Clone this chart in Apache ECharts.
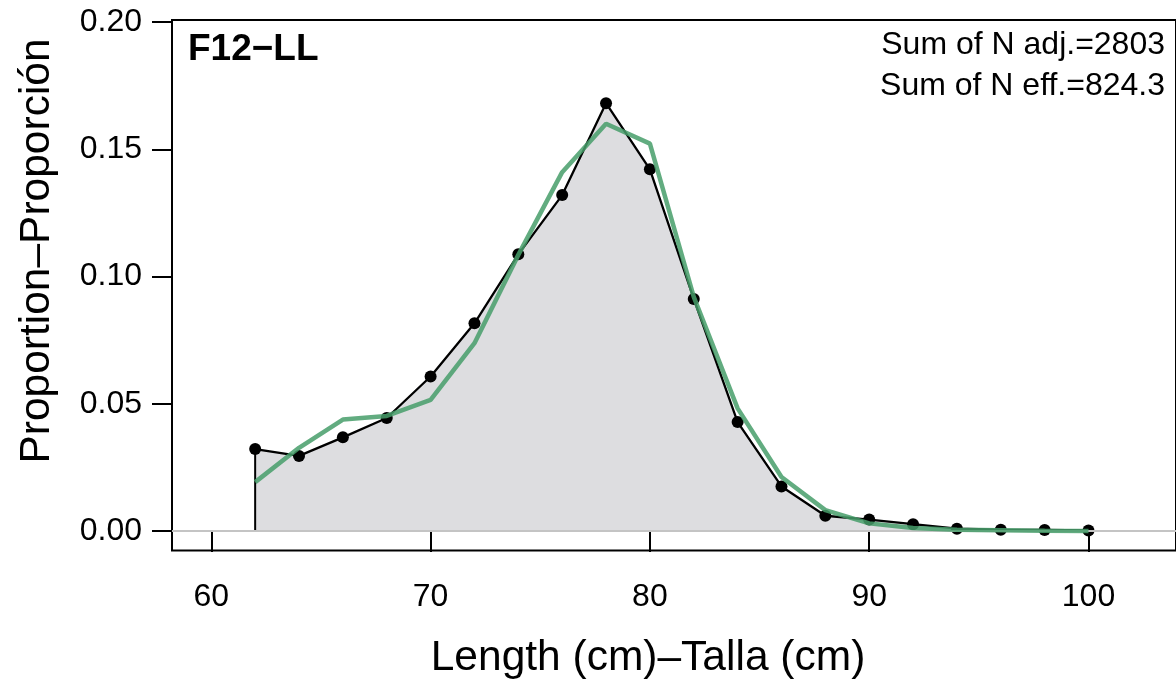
<!DOCTYPE html>
<html>
<head>
<meta charset="utf-8">
<script src="https://cdn.jsdelivr.net/npm/echarts@6/dist/echarts.min.js"></script>
<style>
html,body{margin:0;padding:0;background:#fff;}
#chart{width:1176px;height:681px;}
</style>
</head>
<body>
<div id="chart"></div>
<script>
// ---- data ----
const lengths = [62,64,66,68,70,72,74,76,78,80,82,84,86,88,90,92,94,96,98,100];
const observed = [0.0322,0.0295,0.0368,0.0444,0.0607,0.0816,0.1087,0.1320,0.1681,0.1421,0.0912,0.0428,0.0175,0.0060,0.0045,0.0027,0.0009,0.0005,0.0004,0.0002];
const expected = [0.0192,0.0327,0.0438,0.0452,0.0515,0.0738,0.1085,0.1410,0.1600,0.1522,0.0920,0.0482,0.0212,0.0082,0.0030,0.0012,0.0005,0.0003,0.0001,0.0000];
const xTicks = [60,70,80,90,100];
const yTicks = [0,0.05,0.10,0.15,0.20];
const panelLabel = 'F12\u2212LL';
const noteLines = ['Sum of N adj.=2803','Sum of N eff.=824.3'];
const xTitle = 'Length (cm)\u2013Talla (cm)';
const yTitle = 'Proportion\u2013Proporci\u00f3n';

const FONT = '"Liberation Sans", Arial, Helvetica, sans-serif';
const obsPts = lengths.map((x,i)=>[x, observed[i]]);
const expPts = lengths.map((x,i)=>[x, expected[i]]);
const edgePts = [[lengths[lengths.length-1],0],[lengths[0],0],[lengths[0],observed[0]]];

const chart = echarts.init(document.getElementById('chart'), null, {renderer:'canvas'});
chart.setOption({
  animation:false,
  backgroundColor:'#ffffff',
  grid:{left:172, top:20, width:1014, height:530.5, show:true, borderColor:'#000', borderWidth:2, backgroundColor:'transparent'},
  xAxis:{
    type:'value', min:58.208, max:103.99,
    axisLine:{show:false},
    splitLine:{show:false},
    axisTick:{show:true, inside:false, length:21, lineStyle:{color:'#000', width:2}, customValues:xTicks},
    axisLabel:{show:true, margin:31, color:'#000', fontSize:32, fontFamily:FONT, customValues:xTicks, formatter:v=>String(v)}
  },
  yAxis:{
    type:'value', min:-0.00766, max:0.20079,
    axisLine:{show:false},
    splitLine:{show:false},
    axisTick:{show:true, inside:false, length:20, lineStyle:{color:'#000', width:2}, customValues:yTicks},
    axisLabel:{show:true, margin:30, color:'#000', fontSize:32, fontFamily:FONT, customValues:yTicks, formatter:v=>v.toFixed(2)}
  },
  series:[
    {
      type:'line', data:[], z:1, silent:true,
      markLine:{silent:true, symbol:'none', label:{show:false}, lineStyle:{color:'#c4c4c4', width:2, type:'solid'}, data:[{yAxis:0}]}
    },
    {
      type:'line', data:obsPts, z:2, silent:true, symbol:'none',
      lineStyle:{width:0, opacity:0},
      areaStyle:{color:'#dddde0', opacity:1, origin:0}
    },
    {
      type:'line', data:edgePts, z:3, silent:true, symbol:'none',
      lineStyle:{color:'#000', width:2}
    },
    {
      type:'line', data:obsPts, z:4, silent:true, symbol:'circle', symbolSize:12,
      itemStyle:{color:'#000'},
      lineStyle:{color:'#000', width:2.3}
    },
    {
      type:'line', data:expPts, z:5, silent:true, symbol:'none',
      lineStyle:{color:'rgba(70,158,106,0.85)', width:4.5}
    }
  ],
  graphic:[
    {type:'text', x:188, y:50, style:{text:panelLabel, font:'bold 37px '+FONT, fill:'#000', textAlign:'left', textVerticalAlign:'middle'}},
    {type:'text', x:1165, y:45, style:{text:noteLines[0], font:'32px '+FONT, fill:'#000', textAlign:'right', textVerticalAlign:'middle'}},
    {type:'text', x:1165, y:86, style:{text:noteLines[1], font:'32px '+FONT, fill:'#000', textAlign:'right', textVerticalAlign:'middle'}},
    {type:'text', x:648, y:658, style:{text:xTitle, font:'42.5px '+FONT, fill:'#000', textAlign:'center', textVerticalAlign:'middle'}},
    {type:'text', x:37, y:251, rotation:Math.PI/2, style:{text:yTitle, font:'42.5px '+FONT, fill:'#000', textAlign:'center', textVerticalAlign:'middle'}}
  ]
});
</script>
</body>
</html>
